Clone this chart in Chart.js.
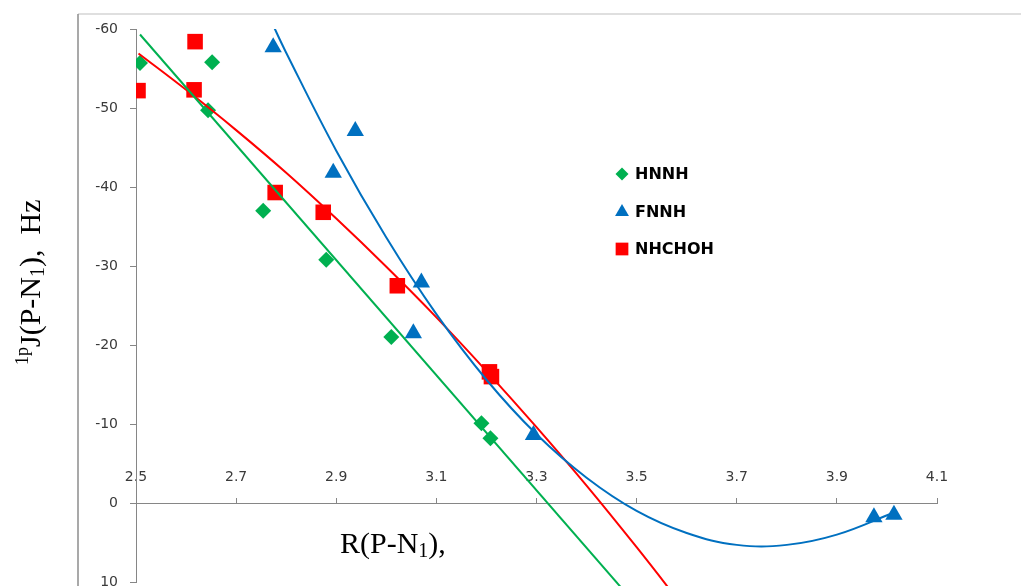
<!DOCTYPE html>
<html>
<head>
<meta charset="utf-8">
<script src="https://cdn.jsdelivr.net/npm/chart.js@4"></script>
<style>
html, body { margin: 0; padding: 0; background: #fff; }
#contenitore { width: 1021px; height: 586px; position: relative; }
</style>
</head>
<body>
<div id="contenitore"><canvas id="grafico"></canvas></div>
<script>
const xTicks = [2.5, 2.7, 2.9, 3.1, 3.3, 3.5, 3.7, 3.9, 4.1];
const yTicks = [-60, -50, -40, -30, -20, -10, 0, 10];

const serie = ['HNNH', 'FNNH', 'NHCHOH'];

const hnnhX = [2.508, 2.652, 2.644, 2.754, 2.88, 3.01, 3.19, 3.208];
const hnnhY = [-55.7, -55.8, -49.7, -37.0, -30.8, -21.0, -10.1, -8.2];
const fnnhX = [2.774, 2.938, 2.894, 3.07, 3.054, 3.294, 3.974, 4.014];
const fnnhY = [-57.7, -47.1, -41.8, -27.9, -21.5, -8.6, 1.8, 1.5];
const nhchohX = [2.504, 2.618, 2.616, 2.778, 2.874, 3.022, 3.206, 3.21];
const nhchohY = [-52.2, -58.4, -52.3, -39.3, -36.8, -27.5, -16.6, -16.0];

// linee di tendenza
const trendHnnhX = [2.508, 3.55];
const trendHnnhY = [-59.3, 16.6];
const trendFnnhX = [2.77, 2.8, 2.9, 3.0, 3.1, 3.2, 3.3, 3.4, 3.5, 3.6, 3.7, 3.8, 3.9, 4.014];
const trendFnnhY = [-61.0, -57.0, -44.6, -33.6, -23.9, -15.6, -8.7, -3.2, 1.0, 3.8, 5.3, 5.3, 4.0, 1.2];
const trendNhchohX = [2.505, 2.6, 2.7, 2.8, 2.9, 3.0, 3.1, 3.2, 3.3, 3.4, 3.5, 3.6];
const trendNhchohY = [-56.9, -52.3, -47.2, -41.8, -36.0, -29.9, -23.5, -16.7, -9.6, -2.2, 5.6, 13.7];

const verde = '#00B050';
const blu = '#0070C0';
const rosso = '#FF0000';
const grigio = '#868686';

function punti(xs, ys) {
    return xs.map((x, i) => ({ x: x, y: ys[i] }));
}

function scriviPezzi(ctx, pezzi, x, y) {
    let cx = x;
    pezzi.forEach(p => {
        ctx.font = p.size + 'px "Liberation Serif"';
        ctx.fillText(p.t, cx, y + (p.dy || 0));
        cx += ctx.measureText(p.t).width;
    });
}

function senzaMargini(s) {
    s.paddingLeft = 0;
    s.paddingRight = 0;
    s.paddingTop = 0;
    s.paddingBottom = 0;
}

const decorazioni = {
    id: 'decorazioni',
    afterDraw(chart) {
        const ctx = chart.ctx;
        ctx.save();
        // bordo dell'area del grafico
        ctx.lineWidth = 1.5;
        ctx.strokeStyle = '#d4d4d4';
        ctx.beginPath();
        ctx.moveTo(78, 14);
        ctx.lineTo(1021, 14);
        ctx.stroke();
        ctx.strokeStyle = '#8c8c8c';
        ctx.beginPath();
        ctx.moveTo(78, 14);
        ctx.lineTo(78, 586);
        ctx.stroke();

        // titoli degli assi
        ctx.fillStyle = '#000';
        ctx.textBaseline = 'alphabetic';
        ctx.textAlign = 'left';
        scriviPezzi(ctx, [
            { t: 'R(P-N', size: 30 },
            { t: '1', size: 20, dy: 4 },
            { t: '),', size: 30 }
        ], 340, 553);

        ctx.save();
        ctx.translate(40, 365);
        ctx.rotate(-Math.PI / 2);
        scriviPezzi(ctx, [
            { t: '1p', size: 18, dy: -12 },
            { t: 'J(P-N', size: 30 },
            { t: '1', size: 20, dy: 4 },
            { t: '),  Hz', size: 30 }
        ], 0, 0);
        ctx.restore();

        // legenda
        const voci = [
            { stile: 'rectRot', r: 6.5, colore: verde, y: 174 },
            { stile: 'triangle', r: 8, colore: blu, y: 212 },
            { stile: 'rect', r: 9, colore: rosso, y: 249 }
        ];
        voci.forEach((v, i) => {
            ctx.fillStyle = v.colore;
            Chart.helpers.drawPoint(ctx, { pointStyle: v.stile, radius: v.r, rotation: 0, borderWidth: 0 }, 622, v.y);
            ctx.fillStyle = '#000';
            ctx.font = 'bold 16px "DejaVu Sans"';
            ctx.textBaseline = 'middle';
            ctx.fillText(serie[i], 635, v.y + 1);
        });
        ctx.restore();
    }
};

const ctx = document.getElementById('grafico').getContext('2d');

new Chart(ctx, {
    type: 'scatter',
    data: {
        datasets: [
            {
                label: 'tendenza HNNH',
                data: punti(trendHnnhX, trendHnnhY),
                showLine: true,
                borderColor: verde,
                borderWidth: 2,
                pointRadius: 0,
                clip: { left: 0, top: 0, right: 0, bottom: 6 },
                order: 0
            },
            {
                label: 'tendenza FNNH',
                data: punti(trendFnnhX, trendFnnhY),
                showLine: true,
                borderColor: blu,
                borderWidth: 2,
                pointRadius: 0,
                tension: 0.4,
                clip: { left: 0, top: 0, right: 0, bottom: 6 },
                order: 0
            },
            {
                label: 'tendenza NHCHOH',
                data: punti(trendNhchohX, trendNhchohY),
                showLine: true,
                borderColor: rosso,
                borderWidth: 2,
                pointRadius: 0,
                tension: 0.4,
                clip: { left: 0, top: 0, right: 0, bottom: 6 },
                order: 0
            },
            {
                label: serie[0],
                data: punti(hnnhX, hnnhY),
                pointStyle: 'rectRot',
                pointRadius: 8,
                backgroundColor: verde,
                borderWidth: 0,
                order: 3
            },
            {
                label: serie[1],
                data: punti(fnnhX, fnnhY),
                pointStyle: 'triangle',
                pointRadius: 10,
                backgroundColor: blu,
                borderWidth: 0,
                order: 2
            },
            {
                label: serie[2],
                data: punti(nhchohX, nhchohY),
                pointStyle: 'rect',
                pointRadius: 11,
                backgroundColor: rosso,
                borderWidth: 0,
                order: 1
            }
        ]
    },
    options: {
        responsive: true,
        maintainAspectRatio: false,
        animation: false,
        layout: {
            autoPadding: false,
            padding: { left: 80, right: 84, top: 29, bottom: 4 }
        },
        plugins: {
            legend: { display: false },
            tooltip: { enabled: false }
        },
        scales: {
            x: {
                type: 'linear',
                position: { y: 0 },
                min: 2.5,
                max: 4.1,
                afterBuildTicks: s => { s.ticks = xTicks.map(v => ({ value: v })); },
                afterFit: s => { senzaMargini(s); },
                border: { color: grigio, width: 1 },
                grid: { drawOnChartArea: false, tickLength: -6, color: grigio },
                ticks: {
                    padding: -28,
                    color: '#3a3a3a',
                    font: { family: 'DejaVu Sans', size: 14 },
                    callback: v => v.toFixed(1)
                }
            },
            y: {
                type: 'linear',
                reverse: true,
                min: -60,
                max: 10,
                afterBuildTicks: s => { s.ticks = yTicks.map(v => ({ value: v })); },
                afterFit: s => { s.width = 56; senzaMargini(s); },
                border: { color: grigio, width: 1 },
                grid: { drawOnChartArea: false, tickLength: 6, color: grigio },
                ticks: {
                    padding: 12,
                    color: '#3a3a3a',
                    font: { family: 'DejaVu Sans', size: 14 },
                    callback: v => String(v)
                }
            }
        }
    },
    plugins: [decorazioni]
});
</script>
</body>
</html>
